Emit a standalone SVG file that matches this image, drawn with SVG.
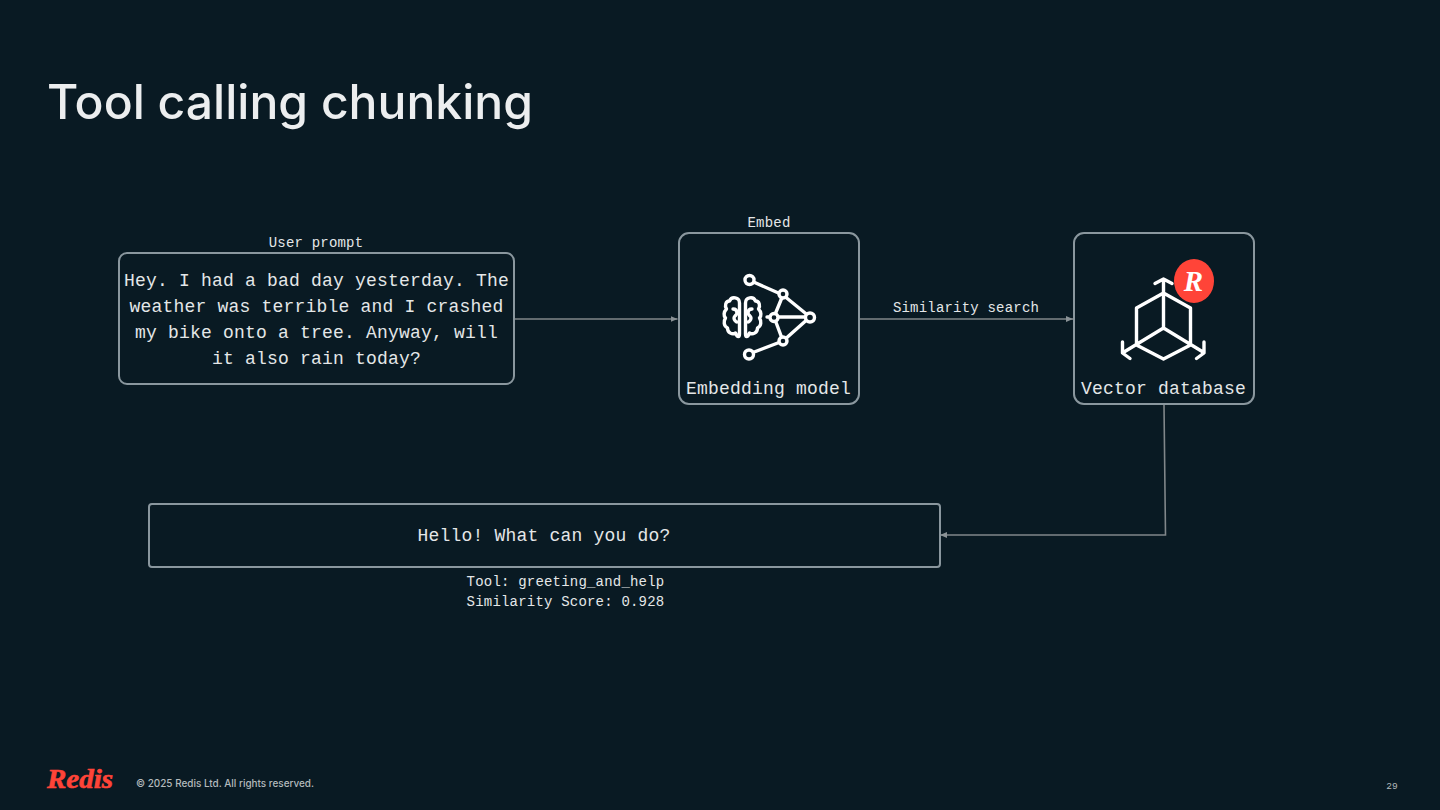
<svg xmlns="http://www.w3.org/2000/svg" width="1440" height="810" viewBox="0 0 1440 810">
<style>
text{font-family:"Liberation Mono","DejaVu Sans Mono",monospace;fill:#e4e7e8;text-anchor:middle}
.b{font-size:18px;letter-spacing:.2px}
.s{font-size:14px;letter-spacing:.2px}
.box{fill:none;stroke:#8a979e;stroke-width:2}
.c{fill:none;stroke:#80878a;stroke-width:1.6}
.i{fill:none;stroke:#fff;stroke-width:3.4;stroke-linecap:round;stroke-linejoin:round}
.n{fill:#091a23;stroke:#fff;stroke-width:3.4}
</style>
<defs><marker id="a" markerUnits="userSpaceOnUse" markerWidth="8" markerHeight="8" refX="7" refY="4" orient="auto"><path d="M0 1 L7 4 L0 7Z" fill="#8a9296"/></marker></defs>
<rect width="1440" height="810" fill="#091a23"/>
<text x="47" y="119" textLength="486" lengthAdjust="spacingAndGlyphs" style="font-family:Inter,'Liberation Sans',sans-serif;font-size:48px;font-weight:500;text-anchor:start;fill:#eceeef">Tool calling chunking</text>
<g id="connectors">
<path class="c" d="M515 319H677.500" marker-end="url(#a)"/>
<path class="c" d="M860 319H1073" marker-end="url(#a)"/>
<path class="c" d="M1164 405L1165.500 535H940" marker-end="url(#a)"/>
<text class="s" x="966" y="312">Similarity search</text>
</g>
<g id="user-prompt">
<text class="s" x="316" y="247">User prompt</text>
<rect class="box" x="119" y="253" width="395" height="131" rx="8"/>
<text class="b" x="316.500" y="286">Hey. I had a bad day yesterday. The</text>
<text class="b" x="316.500" y="312">weather was terrible and I crashed</text>
<text class="b" x="316.500" y="338">my bike onto a tree. Anyway, will</text>
<text class="b" x="316.500" y="364">it also rain today?</text>
</g>
<g id="embedding-model">
<text class="s" x="769" y="227">Embed</text>
<rect class="box" x="679" y="233" width="180" height="171" rx="10"/>
<g class="i">
<path d="M749 280L783 295L810 317L783 341L749 354M783 295L774 317L783 341M767 317H810"/>
<path d="M739.500 302c0-6-8-7-10-2c-4 0-5 5-3 8c-3 3-3 7-1 9c-2 3-2 8 2 10c0 5 5 7 8 5c2 5 4 4 4 1Z" transform="translate(0 1)"/>
<path d="M745.500 302c0-6 8-7 10-2c4 0 5 5 3 8c3 3 3 7 1 9c2 3 2 8-2 10c0 5-5 7-8 5c-2 5-4 4-4 1Z" transform="translate(0 1)"/>
<path d="M733 309c3 0 4 2 4 4c0 2-3 3-3 5c0 2 2 4 3 4M752 309c-3 0-4 2-4 4c0 2 3 3 3 5c0 2-2 4-3 4"/>
</g>
<circle class="n" cx="749.500" cy="280" r="4.500"/><circle class="n" cx="783" cy="294" r="4"/><circle class="n" cx="774" cy="317.500" r="4"/><circle class="n" cx="810" cy="317.500" r="4.500"/><circle class="n" cx="783" cy="341" r="4"/><circle class="n" cx="749" cy="354.500" r="4.500"/>
<text class="b" x="768.500" y="394">Embedding model</text>
</g>
<g id="vector-database">
<rect class="box" x="1074" y="233" width="180" height="171" rx="10"/>
<g class="i" stroke-linecap="butt">
<path d="M1163.500 279V328M1163.500 293L1190.500 308V345L1163.500 359L1136.500 345V308ZM1163.500 328L1124 352M1163.500 328L1203 352M1155 283.500L1163.500 279L1172 283.500M1122.500 342V353L1130 358.500M1204 342V353L1196.500 358.500"/>
</g>
<ellipse cx="1194" cy="281" rx="20" ry="22" fill="#ff4438"/>
<text x="1193.500" y="291" style="font-family:'Liberation Serif',serif;font-size:29px;font-weight:700;font-style:italic;fill:#fff">R</text>
<text class="b" x="1163.500" y="394">Vector database</text>
</g>
<g id="response">
<rect class="box" x="149" y="504" width="791" height="63" rx="3"/>
<text class="b" x="544" y="541">Hello! What can you do?</text>
<text class="s" x="565.500" y="586">Tool: greeting_and_help</text>
<text class="s" x="565.500" y="606">Similarity Score: 0.928</text>
</g>
<g id="footer">
<text x="80" y="788" textLength="66" lengthAdjust="spacingAndGlyphs" style="font-family:'Liberation Serif',serif;font-size:27px;font-weight:700;font-style:italic;fill:#ff4438;stroke:#ff4438;stroke-width:.6">Redis</text>
<text x="136" y="787" textLength="178" lengthAdjust="spacingAndGlyphs" style="font-family:Inter,sans-serif;font-size:10px;font-weight:500;text-anchor:start;fill:#b4babd">© 2025 Redis Ltd. All rights reserved.</text>
<text x="1392" y="789" style="font-family:'Liberation Mono',monospace;font-size:9.500px;fill:#b4babd">29</text>
</g>
</svg>
